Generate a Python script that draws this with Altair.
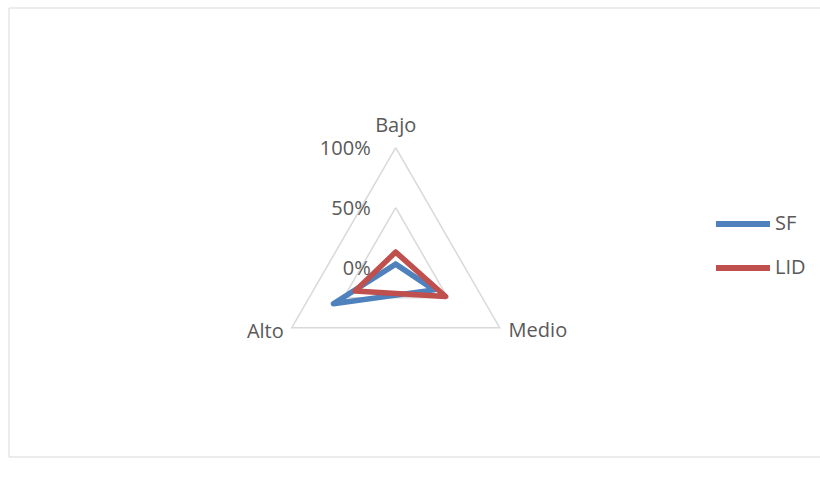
import altair as alt
import pandas as pd

# ---- data ----
categories = ["Bajo", "Medio", "Alto"]
series_names = ["SF", "LID"]
sf_values = [0.03, 0.37, 0.60]
lid_values = [0.13, 0.48, 0.39]
ring_levels = [0.5, 1.0]
tick_values = [0.0, 0.5, 1.0]
tick_labels = ["0%", "50%", "100%"]

BLUE = "#4F81BD"
RED = "#C0504D"
GRID = "#D9D9D9"
TXT = "#595959"
FONT = "Open Sans"

W, H = 820, 486
CX, CY, R = 395.7, 267.7, 120.0  # plot centre / radius used only to set scale domains

# ---- tables built from the arrays ----
rows = []
for s, vals in zip(series_names, [sf_values, lid_values]):
    for k in range(len(categories) + 1):
        i = k % len(categories)
        rows.append({"series": s, "cat": categories[i], "idx": i, "k": k, "value": vals[i]})
series_df = pd.DataFrame(rows)

ring_rows = []
for lv in ring_levels:
    for k in range(len(categories) + 1):
        i = k % len(categories)
        ring_rows.append({"ring": lv, "idx": i, "k": k, "value": lv})
ring_df = pd.DataFrame(ring_rows)

cat_df = pd.DataFrame({"cat": categories, "idx": list(range(len(categories))), "value": [1.0] * len(categories)})
tick_df = pd.DataFrame({"label": tick_labels, "value": tick_values, "idx": [0] * len(tick_values)})

xs = alt.Scale(domain=[-CX / R, (W - CX) / R], range=[0, W], nice=False, zero=False)
ys = alt.Scale(domain=[-(H - CY) / R, CY / R], range=[H, 0], nice=False, zero=False)

def polar(ch):
    return ch.transform_calculate(
        ang="PI/2 - datum.idx*2*PI/3"
    ).transform_calculate(
        px="datum.value*cos(datum.ang)", py="datum.value*sin(datum.ang)"
    )

X = alt.X("px:Q", scale=xs, axis=None)
Y = alt.Y("py:Q", scale=ys, axis=None)

frame = alt.Chart(alt.Data(values=[{}])).mark_rect(
    filled=False, stroke=GRID, strokeWidth=1
).encode(x=alt.value(9), x2=alt.value(840), y=alt.value(8), y2=alt.value(457))

rings = polar(alt.Chart(ring_df)).mark_line(
    color=GRID, strokeWidth=1.5
).encode(x=X, y=Y, detail="ring:N", order="k:Q")

lines = polar(alt.Chart(series_df)).mark_line(
    strokeWidth=5.5, strokeJoin="round", strokeCap="round"
).encode(
    x=X, y=Y, order="k:Q",
    color=alt.Color(
        "series:N",
        scale=alt.Scale(domain=series_names, range=[BLUE, RED]),
        legend=alt.Legend(
            orient="none", legendX=713, legendY=202, title=None,
            symbolType="stroke", symbolSize=2916, symbolStrokeWidth=6,
            labelFontSize=20, labelColor=TXT, labelFont=FONT,
            clipHeight=44, rowPadding=0, padding=0, labelOffset=2, offset=0,
        ),
    ),
)

def cat_label(name, align, dx, dy):
    return polar(alt.Chart(cat_df).transform_filter(alt.datum.cat == name)).mark_text(
        align=align, baseline="alphabetic", dx=dx, dy=dy,
        fontSize=20, font=FONT, color=TXT
    ).encode(x=X, y=Y, text="cat:N")

lab_bajo = cat_label("Bajo", "center", 0, -16)
lab_medio = cat_label("Medio", "left", 9, 9)
lab_alto = cat_label("Alto", "right", -8, 10)

ticks = polar(alt.Chart(tick_df)).mark_text(
    align="right", baseline="alphabetic", dx=-25, dy=7,
    fontSize=20, font=FONT, color=TXT
).encode(x=X, y=Y, text="label:N")

chart = alt.layer(frame, rings, lines, lab_bajo, lab_medio, lab_alto, ticks).properties(
    width=W, height=H, padding=0, autosize="none", background="white"
).configure_view(stroke=None)

chart.save("out.html", embed_options={"renderer": "svg", "actions": False})
